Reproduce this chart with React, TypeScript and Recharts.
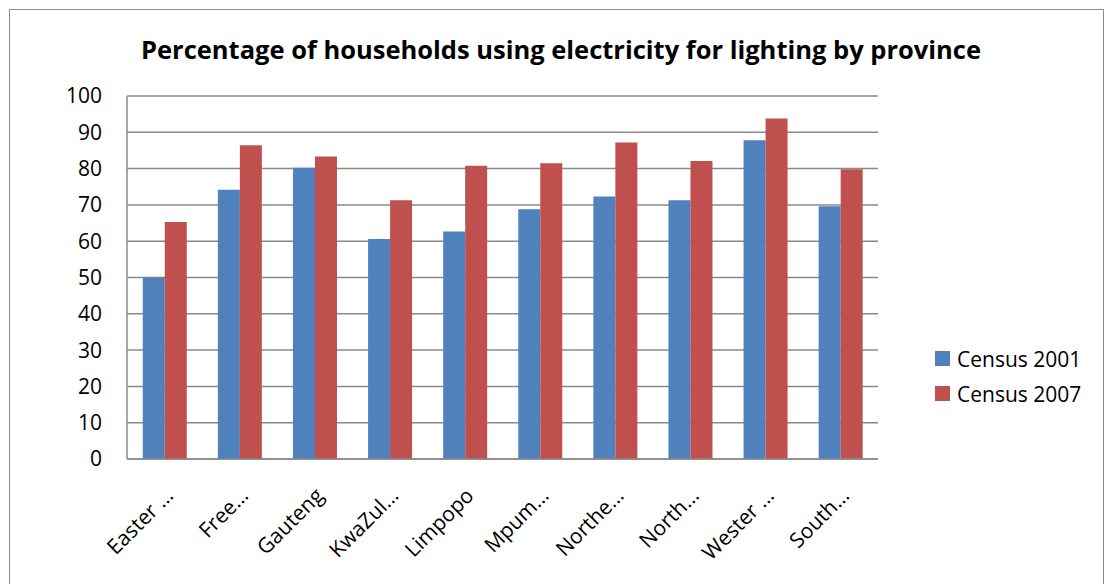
import { Bar, BarChart, CartesianGrid, XAxis, YAxis } from "recharts";

const provinces = ["Easter …", "Free…", "Gauteng", "KwaZul…", "Limpopo", "Mpum…", "Northe…", "North…", "Wester …", "South…"];
const census2001 = [50, 74.2, 80.2, 60.6, 62.7, 68.8, 72.3, 71.3, 87.8, 69.6];
const census2007 = [65.3, 86.4, 83.3, 71.3, 80.8, 81.5, 87.2, 82.1, 93.8, 79.8];
const yTicks = [0, 10, 20, 30, 40, 50, 60, 70, 80, 90, 100];
const seriesNames = ["Census 2001", "Census 2007"];
const seriesColors = ["#4f81bd", "#c0504d"];

const FONT = "'Open Sans', sans-serif";
const GRID = "#8a8a8a";

const data = provinces.map((name, i) => ({
  name,
  c2001: census2001[i],
  c2007: census2007[i],
}));

function ProvinceTick({ x, y, payload }: any) {
  return (
    <g transform={`translate(${x + 10},${y + 30})`}>
      <text transform="rotate(-45)" textAnchor="end" fontFamily={FONT} fontSize={21} fill="#000">
        {payload.value}
      </text>
    </g>
  );
}

export default function App() {
  return (
    <div style={{ position: "absolute", left: 0, top: 0, width: 1107, height: 584, background: "#fff", overflow: "hidden" }}>
      <div
        style={{
          position: "absolute",
          left: 9,
          top: 9,
          width: 1093,
          height: 600,
          border: "1.5px solid #8c8c8c",
        }}
      />
      <div
        style={{
          position: "absolute",
          left: 0,
          width: 1122,
          top: 32,
          textAlign: "center",
          fontFamily: FONT,
          fontWeight: 700,
          fontSize: 25.5,
          whiteSpace: "nowrap",
        }}
      >
        Percentage of households using electricity for lighting by province
      </div>
      <div style={{ position: "absolute", left: 935, top: 341, fontFamily: FONT, fontSize: 21, color: "#000" }}>
        {seriesNames.map((n, i) => (
          <div key={n} style={{ display: "flex", alignItems: "center", height: 35 }}>
            <span style={{ width: 15, height: 15, background: seriesColors[i], marginRight: 7, display: "inline-block" }} />
            {n}
          </div>
        ))}
      </div>
      <BarChart
        width={1107}
        height={584}
        data={data}
        margin={{ top: 96, right: 229, left: 0, bottom: 0 }}
        barCategoryGap="21%"
        barGap={0}
        style={{ position: "absolute", left: 0, top: 0 }}
      >
        <CartesianGrid vertical={false} stroke={GRID} strokeWidth={1.5} />
        <XAxis
          dataKey="name"
          height={125}
          interval={0}
          tickLine={false}
          axisLine={{ stroke: GRID, strokeWidth: 1.5 }}
          tick={<ProvinceTick />}
        />
        <YAxis
          width={127}
          domain={[0, 100]}
          ticks={yTicks}
          interval={0}
          tickLine={false}
          tickSize={6}
          tickMargin={19}
          axisLine={{ stroke: GRID, strokeWidth: 1.5 }}
          tick={{ fontFamily: FONT, fontSize: 21, fill: "#000" }}
        />
        <Bar dataKey="c2001" name={seriesNames[0]} fill={seriesColors[0]} isAnimationActive={false} />
        <Bar dataKey="c2007" name={seriesNames[1]} fill={seriesColors[1]} isAnimationActive={false} />
      </BarChart>
    </div>
  );
}
